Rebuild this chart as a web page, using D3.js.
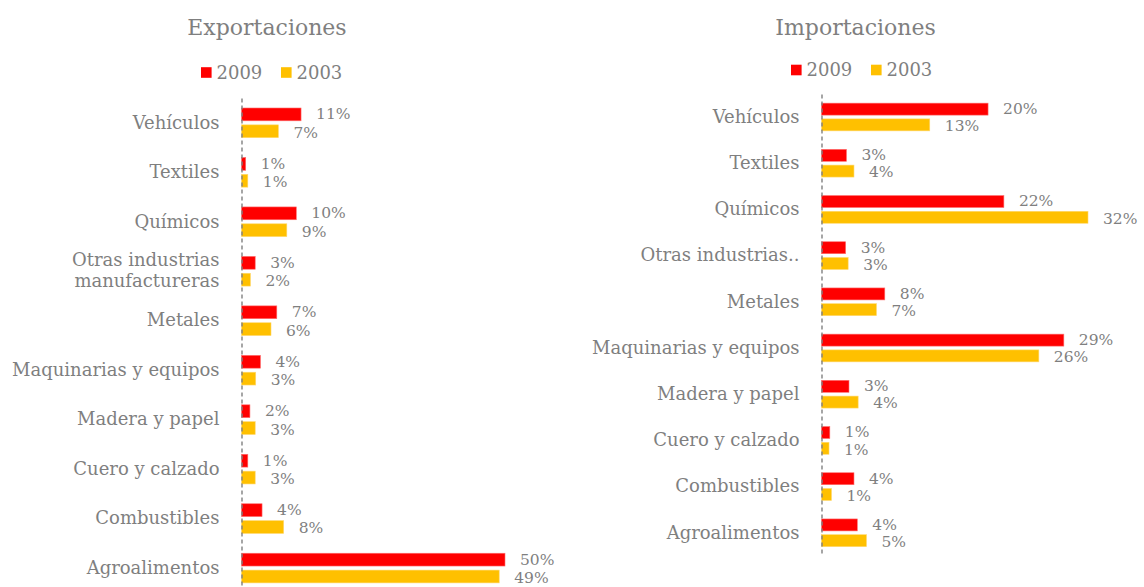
<!DOCTYPE html>
<html>
<head>
<meta charset="utf-8">
<script src="https://cdn.jsdelivr.net/npm/d3@7"></script>
<style>
  html, body { margin: 0; padding: 0; background: #ffffff; }
  svg { display: block; }
  text { font-family: "DejaVu Serif", "Liberation Serif", serif; fill: #7f7f7f; }
</style>
</head>
<body>
<svg id="chart" width="1144" height="587"></svg>
<script>
// ---- data ----
const expCategories = ["Vehículos", "Textiles", "Químicos", "Otras industrias manufactureras", "Metales",
  "Maquinarias y equipos", "Madera y papel", "Cuero y calzado", "Combustibles", "Agroalimentos"];
const impCategories = ["Vehículos", "Textiles", "Químicos", "Otras industrias..", "Metales",
  "Maquinarias y equipos", "Madera y papel", "Cuero y calzado", "Combustibles", "Agroalimentos"];
const seriesNames = ["2009", "2003"];
const exp2009 = [11.3, 0.8, 10.4, 2.6, 6.7, 3.6, 1.6, 1.2, 3.9, 50.0];
const exp2003 = [7.0, 1.2, 8.6, 1.7, 5.6, 2.7, 2.6, 2.6, 8.0, 48.9];
const imp2009 = [20.0, 3.0, 21.9, 2.9, 7.6, 29.1, 3.3, 1.0, 3.9, 4.3];
const imp2003 = [13.0, 3.9, 32.0, 3.2, 6.6, 26.1, 4.4, 0.9, 1.2, 5.4];
const panelTitles = ["Exportaciones", "Importaciones"];

// ---- drawing ----
const colors = d3.scaleOrdinal().domain(seriesNames).range(["#ff0000", "#ffc000"]);
const fmt = v => d3.format(".0f")(v) + "%";
const svg = d3.select("#chart");

function drawPanel(opt) {
  const g = svg.append("g");
  const rows = opt.categories.map((c, i) => ({ cat: c, values: [opt.a[i], opt.b[i]] }));

  const x = d3.scaleLinear().domain(opt.xDomain).range(opt.xRange);
  const y = d3.scaleBand().domain(opt.categories).range(opt.yRange).paddingInner(0.4).paddingOuter(0.2);
  const yi = d3.scaleBand().domain(seriesNames).range([0, y.bandwidth()]).paddingInner(0.24);

  // title
  g.append("text")
    .attr("x", opt.titleX).attr("y", 35)
    .attr("text-anchor", "middle")
    .style("font-size", "22px")
    .text(opt.title);

  // legend
  const leg = g.append("g").attr("transform", `translate(${opt.legendX},${opt.legendY})`);
  seriesNames.forEach((s, i) => {
    const lg = leg.append("g").attr("transform", `translate(${i * 80},0)`);
    lg.append("rect").attr("x", 0).attr("y", -5.3).attr("width", 10.6).attr("height", 10.6).attr("fill", colors(s));
    lg.append("text").attr("x", 15.5).attr("y", 0).attr("dy", "0.36em")
      .style("font-size", "18px").text(s);
  });

  // bars
  const groups = g.selectAll(".cat").data(rows).join("g")
    .attr("class", "cat")
    .attr("transform", d => `translate(0,${y(d.cat)})`);

  groups.selectAll("rect").data(d => d.values.map((v, k) => ({ s: seriesNames[k], v })))
    .join("rect")
    .attr("x", x(0))
    .attr("y", d => yi(d.s))
    .attr("width", d => x(d.v) - x(0))
    .attr("height", yi.bandwidth())
    .attr("fill", d => colors(d.s))
    .attr("stroke", d => d.s === "2009" ? "#ff7070" : "#ffd870")
    .attr("stroke-width", 0.6);

  groups.selectAll("text.lbl").data(d => d.values.map((v, k) => ({ s: seriesNames[k], v })))
    .join("text")
    .attr("class", "lbl")
    .attr("x", d => x(d.v) + 15)
    .attr("y", d => yi(d.s) + yi.bandwidth() / 2 + (d.s === "2009" ? -0.5 : 1.0))
    .attr("dy", "0.35em")
    .style("font-size", "15.5px")
    .text(d => fmt(d.v));

  // category axis
  const axis = g.append("g")
    .attr("transform", `translate(${x(0)},0)`)
    .call(d3.axisLeft(y).tickSize(0).tickSizeOuter(0).tickPadding(22));
  axis.select(".domain")
    .attr("stroke", "#808080")
    .attr("stroke-width", 1.4)
    .attr("stroke-dasharray", "4,3");
  axis.selectAll(".tick text")
    .style("font-family", "\"DejaVu Serif\", \"Liberation Serif\", serif")
    .style("font-size", "18px")
    .attr("fill", "#7f7f7f")
    .each(function (d) {
      if (d === "Otras industrias manufactureras") {
        const t = d3.select(this);
        const xx = t.attr("x");
        t.text(null).attr("dy", null);
        t.append("tspan").attr("x", xx).attr("dy", "-0.3em").text("Otras industrias");
        t.append("tspan").attr("x", xx).attr("dy", "1.2em").text("manufactureras");
      }
    });
}

drawPanel({
  title: panelTitles[0], titleX: 267,
  legendX: 201, legendY: 72.5,
  categories: expCategories, a: exp2009, b: exp2003,
  xDomain: [0, 50], xRange: [241.5, 505],
  yRange: [98.1, 592.8]
});
drawPanel({
  title: panelTitles[1], titleX: 855.5,
  legendX: 791, legendY: 70,
  categories: impCategories, a: imp2009, b: imp2003,
  xDomain: [0, 32], xRange: [821.5, 1088],
  yRange: [93.9, 555.9]
});
</script>
</body>
</html>
